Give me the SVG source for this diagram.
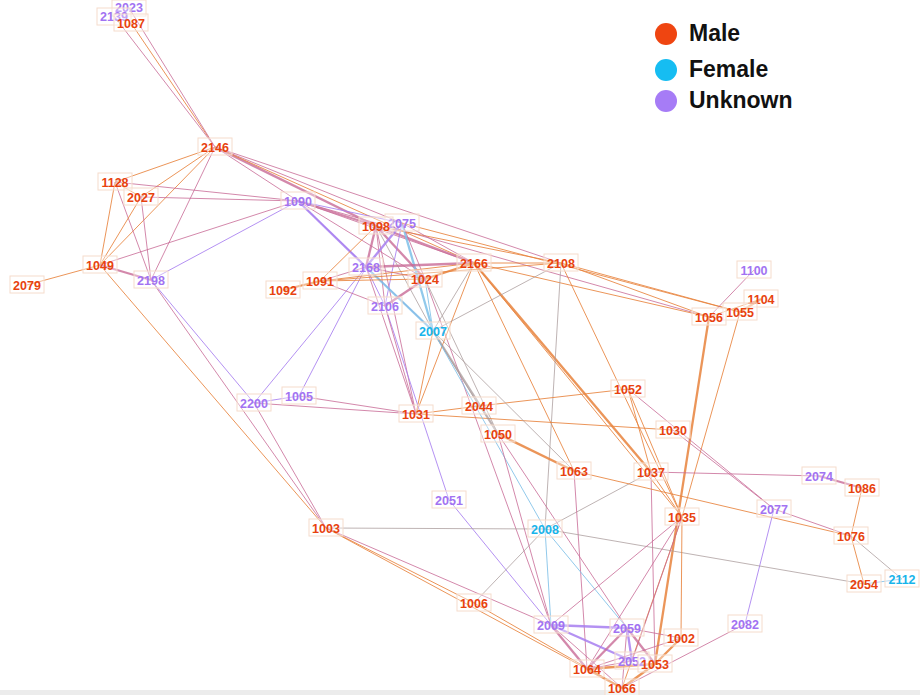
<svg xmlns="http://www.w3.org/2000/svg" width="920" height="695" viewBox="0 0 920 695">
<style>
line{stroke-width:1;fill:none}
.o{stroke:#e8823c;opacity:.85}
.p{stroke:#c86a96;opacity:.8}
.u{stroke:#a77ef0;opacity:.85}
.b{stroke:#7ec0e8;opacity:.85}
.g{stroke:#a89a9a;opacity:.75}
.t{stroke-width:2.3}
.box{fill:#fff;fill-opacity:.35;stroke:#f5dccc;stroke-width:1}
.lbl{font-family:"Liberation Sans",Arial,sans-serif;font-weight:bold;font-size:12.5px;text-anchor:middle}
.m{fill:#e8420e}
.f{fill:#18b4ea}
.k{fill:#a273f2}
.leg{font-family:"Liberation Sans",Arial,sans-serif;font-weight:bold;font-size:23px;fill:#111}
</style>
<rect width="920" height="695" fill="#fff"/>
<rect x="0" y="690" width="920" height="5" fill="#ececec"/>
<g id="connectors">
<line class="o" x1="131" y1="23" x2="215" y2="147"/>
<line class="p" x1="129" y1="8" x2="215" y2="147"/>
<line class="p" x1="114" y1="16" x2="215" y2="147"/>
<line class="o" x1="215" y1="147" x2="115" y2="182"/>
<line class="o" x1="215" y1="147" x2="141" y2="197"/>
<line class="o" x1="215" y1="147" x2="100" y2="265"/>
<line class="p" x1="215" y1="147" x2="151" y2="280"/>
<line class="p" x1="215" y1="147" x2="298" y2="201"/>
<line class="p t" x1="215" y1="147" x2="376" y2="226"/>
<line class="p" x1="215" y1="147" x2="402" y2="223"/>
<line class="o" x1="215" y1="147" x2="474" y2="263"/>
<line class="p" x1="215" y1="147" x2="561" y2="263"/>
<line class="o" x1="115" y1="182" x2="141" y2="197"/>
<line class="o" x1="115" y1="182" x2="100" y2="265"/>
<line class="p" x1="115" y1="182" x2="298" y2="201"/>
<line class="p" x1="115" y1="182" x2="151" y2="280"/>
<line class="o" x1="141" y1="197" x2="100" y2="265"/>
<line class="p" x1="141" y1="197" x2="298" y2="201"/>
<line class="p" x1="141" y1="197" x2="151" y2="280"/>
<line class="p" x1="100" y1="265" x2="298" y2="201"/>
<line class="p t" x1="100" y1="265" x2="151" y2="280"/>
<line class="o" x1="100" y1="265" x2="27" y2="285"/>
<line class="o" x1="100" y1="265" x2="326" y2="528"/>
<line class="u" x1="151" y1="280" x2="298" y2="201"/>
<line class="u" x1="151" y1="280" x2="254" y2="403"/>
<line class="p" x1="151" y1="280" x2="326" y2="528"/>
<line class="p t" x1="298" y1="201" x2="376" y2="226"/>
<line class="u" x1="298" y1="201" x2="402" y2="223"/>
<line class="u t" x1="298" y1="201" x2="366" y2="267"/>
<line class="p" x1="298" y1="201" x2="425" y2="279"/>
<line class="u" x1="298" y1="201" x2="433" y2="331"/>
<line class="p" x1="298" y1="201" x2="474" y2="263"/>
<line class="p" x1="298" y1="201" x2="709" y2="317"/>
<line class="p t" x1="376" y1="226" x2="366" y2="267"/>
<line class="o" x1="376" y1="226" x2="320" y2="281"/>
<line class="p t" x1="376" y1="226" x2="425" y2="279"/>
<line class="p t" x1="376" y1="226" x2="474" y2="263"/>
<line class="p" x1="376" y1="226" x2="385" y2="306"/>
<line class="g" x1="376" y1="226" x2="433" y2="331"/>
<line class="o" x1="376" y1="226" x2="561" y2="263"/>
<line class="p" x1="376" y1="226" x2="416" y2="414"/>
<line class="u t" x1="402" y1="223" x2="366" y2="267"/>
<line class="u" x1="402" y1="223" x2="385" y2="306"/>
<line class="b t" x1="402" y1="223" x2="433" y2="331"/>
<line class="p" x1="402" y1="223" x2="425" y2="279"/>
<line class="p" x1="402" y1="223" x2="474" y2="263"/>
<line class="o" x1="402" y1="223" x2="740" y2="312"/>
<line class="p t" x1="366" y1="267" x2="474" y2="263"/>
<line class="p" x1="366" y1="267" x2="425" y2="279"/>
<line class="p" x1="366" y1="267" x2="320" y2="281"/>
<line class="u" x1="366" y1="267" x2="385" y2="306"/>
<line class="b t" x1="366" y1="267" x2="433" y2="331"/>
<line class="u" x1="366" y1="267" x2="254" y2="403"/>
<line class="u" x1="366" y1="267" x2="299" y2="396"/>
<line class="p" x1="366" y1="267" x2="416" y2="414"/>
<line class="o t" x1="320" y1="281" x2="283" y2="290"/>
<line class="o" x1="320" y1="281" x2="474" y2="263"/>
<line class="p" x1="320" y1="281" x2="385" y2="306"/>
<line class="o" x1="320" y1="281" x2="425" y2="279"/>
<line class="o" x1="320" y1="281" x2="561" y2="263"/>
<line class="o t" x1="425" y1="279" x2="474" y2="263"/>
<line class="p t" x1="425" y1="279" x2="385" y2="306"/>
<line class="b" x1="425" y1="279" x2="433" y2="331"/>
<line class="g" x1="425" y1="279" x2="498" y2="434"/>
<line class="p" x1="425" y1="279" x2="551" y2="625"/>
<line class="o" x1="474" y1="263" x2="561" y2="263"/>
<line class="g" x1="474" y1="263" x2="433" y2="331"/>
<line class="o" x1="474" y1="263" x2="709" y2="317"/>
<line class="o t" x1="474" y1="263" x2="651" y2="472"/>
<line class="o" x1="474" y1="263" x2="574" y2="471"/>
<line class="o" x1="474" y1="263" x2="416" y2="414"/>
<line class="o" x1="474" y1="263" x2="682" y2="517"/>
<line class="o" x1="561" y1="263" x2="709" y2="317"/>
<line class="o" x1="561" y1="263" x2="740" y2="312"/>
<line class="g" x1="561" y1="263" x2="433" y2="331"/>
<line class="g" x1="561" y1="263" x2="545" y2="529"/>
<line class="o" x1="561" y1="263" x2="682" y2="517"/>
<line class="p" x1="754" y1="270" x2="709" y2="317"/>
<line class="o t" x1="761" y1="299" x2="740" y2="312"/>
<line class="o" x1="761" y1="299" x2="709" y2="317"/>
<line class="o t" x1="709" y1="317" x2="655" y2="664"/>
<line class="o" x1="740" y1="312" x2="682" y2="517"/>
<line class="u" x1="254" y1="403" x2="299" y2="396"/>
<line class="p" x1="254" y1="403" x2="416" y2="414"/>
<line class="p" x1="254" y1="403" x2="326" y2="528"/>
<line class="p" x1="299" y1="396" x2="416" y2="414"/>
<line class="o" x1="416" y1="414" x2="479" y2="406"/>
<line class="o" x1="416" y1="414" x2="673" y2="430"/>
<line class="o" x1="479" y1="406" x2="628" y2="389"/>
<line class="g t" x1="433" y1="331" x2="498" y2="434"/>
<line class="g" x1="433" y1="331" x2="479" y2="406"/>
<line class="b" x1="433" y1="331" x2="545" y2="529"/>
<line class="g" x1="433" y1="331" x2="574" y2="471"/>
<line class="o" x1="433" y1="331" x2="416" y2="414"/>
<line class="u" x1="385" y1="306" x2="449" y2="500"/>
<line class="p" x1="385" y1="306" x2="416" y2="414"/>
<line class="u" x1="449" y1="500" x2="551" y2="625"/>
<line class="o t" x1="498" y1="434" x2="574" y2="471"/>
<line class="p" x1="498" y1="434" x2="551" y2="625"/>
<line class="p" x1="498" y1="434" x2="627" y2="628"/>
<line class="o" x1="628" y1="389" x2="651" y2="472"/>
<line class="o" x1="628" y1="389" x2="682" y2="517"/>
<line class="p" x1="628" y1="389" x2="774" y2="509"/>
<line class="p" x1="673" y1="430" x2="774" y2="509"/>
<line class="p" x1="651" y1="472" x2="819" y2="476"/>
<line class="o" x1="651" y1="472" x2="682" y2="517"/>
<line class="g" x1="651" y1="472" x2="545" y2="529"/>
<line class="p" x1="651" y1="472" x2="655" y2="664"/>
<line class="o" x1="574" y1="471" x2="851" y2="536"/>
<line class="p" x1="574" y1="471" x2="587" y2="669"/>
<line class="p t" x1="819" y1="476" x2="862" y2="488"/>
<line class="o" x1="862" y1="488" x2="851" y2="536"/>
<line class="p" x1="774" y1="509" x2="851" y2="536"/>
<line class="u" x1="774" y1="509" x2="745" y2="624"/>
<line class="o" x1="851" y1="536" x2="864" y2="584"/>
<line class="g" x1="851" y1="536" x2="902" y2="579"/>
<line class="b" x1="864" y1="584" x2="902" y2="579"/>
<line class="g" x1="545" y1="529" x2="864" y2="584"/>
<line class="g" x1="326" y1="528" x2="545" y2="529"/>
<line class="o" x1="326" y1="528" x2="474" y2="603"/>
<line class="p" x1="326" y1="528" x2="551" y2="625"/>
<line class="o" x1="326" y1="528" x2="587" y2="669"/>
<line class="g" x1="545" y1="529" x2="474" y2="603"/>
<line class="b" x1="545" y1="529" x2="627" y2="628"/>
<line class="b" x1="545" y1="529" x2="551" y2="625"/>
<line class="p" x1="682" y1="517" x2="551" y2="625"/>
<line class="p" x1="682" y1="517" x2="587" y2="669"/>
<line class="o" x1="682" y1="517" x2="622" y2="688"/>
<line class="p" x1="682" y1="517" x2="632" y2="661"/>
<line class="o" x1="682" y1="517" x2="681" y2="638"/>
<line class="u t" x1="551" y1="625" x2="627" y2="628"/>
<line class="u t" x1="551" y1="625" x2="632" y2="661"/>
<line class="p t" x1="551" y1="625" x2="587" y2="669"/>
<line class="p" x1="551" y1="625" x2="622" y2="688"/>
<line class="p t" x1="627" y1="628" x2="587" y2="669"/>
<line class="p" x1="627" y1="628" x2="622" y2="688"/>
<line class="u t" x1="627" y1="628" x2="632" y2="661"/>
<line class="p t" x1="627" y1="628" x2="655" y2="664"/>
<line class="p" x1="627" y1="628" x2="681" y2="638"/>
<line class="o t" x1="681" y1="638" x2="655" y2="664"/>
<line class="p" x1="681" y1="638" x2="587" y2="669"/>
<line class="o t" x1="587" y1="669" x2="655" y2="664"/>
<line class="o t" x1="587" y1="669" x2="622" y2="688"/>
<line class="p" x1="587" y1="669" x2="632" y2="661"/>
<line class="o t" x1="622" y1="688" x2="655" y2="664"/>
<line class="p" x1="622" y1="688" x2="745" y2="624"/>
<line class="o" x1="474" y1="603" x2="622" y2="688"/>
</g>
<g id="n2023"><rect class="box" x="112" y="0" width="34" height="16"/><text class="lbl k" x="129" y="12">2023</text></g>
<g id="n2139"><rect class="box" x="97" y="8" width="34" height="17"/><text class="lbl k" x="114" y="20.5">2139</text></g>
<g id="n1087"><rect class="box" x="114" y="14" width="34" height="17"/><text class="lbl m" x="131" y="27.5">1087</text></g>
<g id="n2146"><rect class="box" x="198" y="138" width="34" height="17"/><text class="lbl m" x="215" y="151.5">2146</text></g>
<g id="n1128"><rect class="box" x="98" y="173" width="34" height="17"/><text class="lbl m" x="115" y="186.5">1128</text></g>
<g id="n2027"><rect class="box" x="124" y="188" width="34" height="17"/><text class="lbl m" x="141" y="201.5">2027</text></g>
<g id="n1090"><rect class="box" x="281" y="192" width="34" height="17"/><text class="lbl k" x="298" y="205.5">1090</text></g>
<g id="n2075"><rect class="box" x="385" y="214" width="34" height="17"/><text class="lbl k" x="402" y="227.5">2075</text></g>
<g id="n1098"><rect class="box" x="359" y="217" width="34" height="17"/><text class="lbl m" x="376" y="230.5">1098</text></g>
<g id="n2168"><rect class="box" x="349" y="258" width="34" height="17"/><text class="lbl k" x="366" y="271.5">2168</text></g>
<g id="n2166"><rect class="box" x="457" y="254" width="34" height="17"/><text class="lbl m" x="474" y="267.5">2166</text></g>
<g id="n2108"><rect class="box" x="544" y="254" width="34" height="17"/><text class="lbl m" x="561" y="267.5">2108</text></g>
<g id="n1091"><rect class="box" x="303" y="272" width="34" height="17"/><text class="lbl m" x="320" y="285.5">1091</text></g>
<g id="n1092"><rect class="box" x="266" y="281" width="34" height="17"/><text class="lbl m" x="283" y="294.5">1092</text></g>
<g id="n1024"><rect class="box" x="408" y="270" width="34" height="17"/><text class="lbl m" x="425" y="283.5">1024</text></g>
<g id="n2106"><rect class="box" x="368" y="297" width="34" height="17"/><text class="lbl k" x="385" y="310.5">2106</text></g>
<g id="n2007"><rect class="box" x="416" y="322" width="34" height="17"/><text class="lbl f" x="433" y="335.5">2007</text></g>
<g id="n1100"><rect class="box" x="737" y="261" width="34" height="17"/><text class="lbl k" x="754" y="274.5">1100</text></g>
<g id="n1104"><rect class="box" x="744" y="290" width="34" height="17"/><text class="lbl m" x="761" y="303.5">1104</text></g>
<g id="n1055"><rect class="box" x="723" y="303" width="34" height="17"/><text class="lbl m" x="740" y="316.5">1055</text></g>
<g id="n1056"><rect class="box" x="692" y="308" width="34" height="17"/><text class="lbl m" x="709" y="321.5">1056</text></g>
<g id="n2079"><rect class="box" x="10" y="276" width="34" height="17"/><text class="lbl m" x="27" y="289.5">2079</text></g>
<g id="n1049"><rect class="box" x="83" y="256" width="34" height="17"/><text class="lbl m" x="100" y="269.5">1049</text></g>
<g id="n2198"><rect class="box" x="134" y="271" width="34" height="17"/><text class="lbl k" x="151" y="284.5">2198</text></g>
<g id="n2200"><rect class="box" x="237" y="394" width="34" height="17"/><text class="lbl k" x="254" y="407.5">2200</text></g>
<g id="n1005"><rect class="box" x="282" y="387" width="34" height="17"/><text class="lbl k" x="299" y="400.5">1005</text></g>
<g id="n1031"><rect class="box" x="399" y="405" width="34" height="17"/><text class="lbl m" x="416" y="418.5">1031</text></g>
<g id="n2044"><rect class="box" x="462" y="397" width="34" height="17"/><text class="lbl m" x="479" y="410.5">2044</text></g>
<g id="n1052"><rect class="box" x="611" y="380" width="34" height="17"/><text class="lbl m" x="628" y="393.5">1052</text></g>
<g id="n1030"><rect class="box" x="656" y="421" width="34" height="17"/><text class="lbl m" x="673" y="434.5">1030</text></g>
<g id="n1050"><rect class="box" x="481" y="425" width="34" height="17"/><text class="lbl m" x="498" y="438.5">1050</text></g>
<g id="n1063"><rect class="box" x="557" y="462" width="34" height="17"/><text class="lbl m" x="574" y="475.5">1063</text></g>
<g id="n1037"><rect class="box" x="634" y="463" width="34" height="17"/><text class="lbl m" x="651" y="476.5">1037</text></g>
<g id="n2074"><rect class="box" x="802" y="467" width="34" height="17"/><text class="lbl k" x="819" y="480.5">2074</text></g>
<g id="n1086"><rect class="box" x="845" y="479" width="34" height="17"/><text class="lbl m" x="862" y="492.5">1086</text></g>
<g id="n2077"><rect class="box" x="757" y="500" width="34" height="17"/><text class="lbl k" x="774" y="513.5">2077</text></g>
<g id="n1035"><rect class="box" x="665" y="508" width="34" height="17"/><text class="lbl m" x="682" y="521.5">1035</text></g>
<g id="n1076"><rect class="box" x="834" y="527" width="34" height="17"/><text class="lbl m" x="851" y="540.5">1076</text></g>
<g id="n2054"><rect class="box" x="847" y="575" width="34" height="17"/><text class="lbl m" x="864" y="588.5">2054</text></g>
<g id="n2112"><rect class="box" x="885" y="570" width="34" height="17"/><text class="lbl f" x="902" y="583.5">2112</text></g>
<g id="n2051"><rect class="box" x="432" y="491" width="34" height="17"/><text class="lbl k" x="449" y="504.5">2051</text></g>
<g id="n1003"><rect class="box" x="309" y="519" width="34" height="17"/><text class="lbl m" x="326" y="532.5">1003</text></g>
<g id="n2008"><rect class="box" x="528" y="520" width="34" height="17"/><text class="lbl f" x="545" y="533.5">2008</text></g>
<g id="n1006"><rect class="box" x="457" y="594" width="34" height="17"/><text class="lbl m" x="474" y="607.5">1006</text></g>
<g id="n2009"><rect class="box" x="534" y="616" width="34" height="17"/><text class="lbl k" x="551" y="629.5">2009</text></g>
<g id="n2059"><rect class="box" x="610" y="619" width="34" height="17"/><text class="lbl k" x="627" y="632.5">2059</text></g>
<g id="n1002"><rect class="box" x="664" y="629" width="34" height="17"/><text class="lbl m" x="681" y="642.5">1002</text></g>
<g id="n2082"><rect class="box" x="728" y="615" width="34" height="17"/><text class="lbl k" x="745" y="628.5">2082</text></g>
<g id="n2052"><rect class="box" x="615" y="652" width="34" height="17"/><text class="lbl k" x="632" y="665.5">2052</text></g>
<g id="n1053"><rect class="box" x="638" y="655" width="34" height="17"/><text class="lbl m" x="655" y="668.5">1053</text></g>
<g id="n1064"><rect class="box" x="570" y="660" width="34" height="17"/><text class="lbl m" x="587" y="673.5">1064</text></g>
<g id="n1066"><rect class="box" x="605" y="679" width="34" height="17"/><text class="lbl m" x="622" y="692.5">1066</text></g>
<g id="legend">
<circle cx="666" cy="34" r="11" fill="#ef4511"/>
<text class="leg" x="689" y="41">Male</text>
<circle cx="666" cy="70" r="11" fill="#16bdf2"/>
<text class="leg" x="689" y="77">Female</text>
<circle cx="666" cy="101" r="11" fill="#a67cf6"/>
<text class="leg" x="689" y="108">Unknown</text>
</g>
</svg>
